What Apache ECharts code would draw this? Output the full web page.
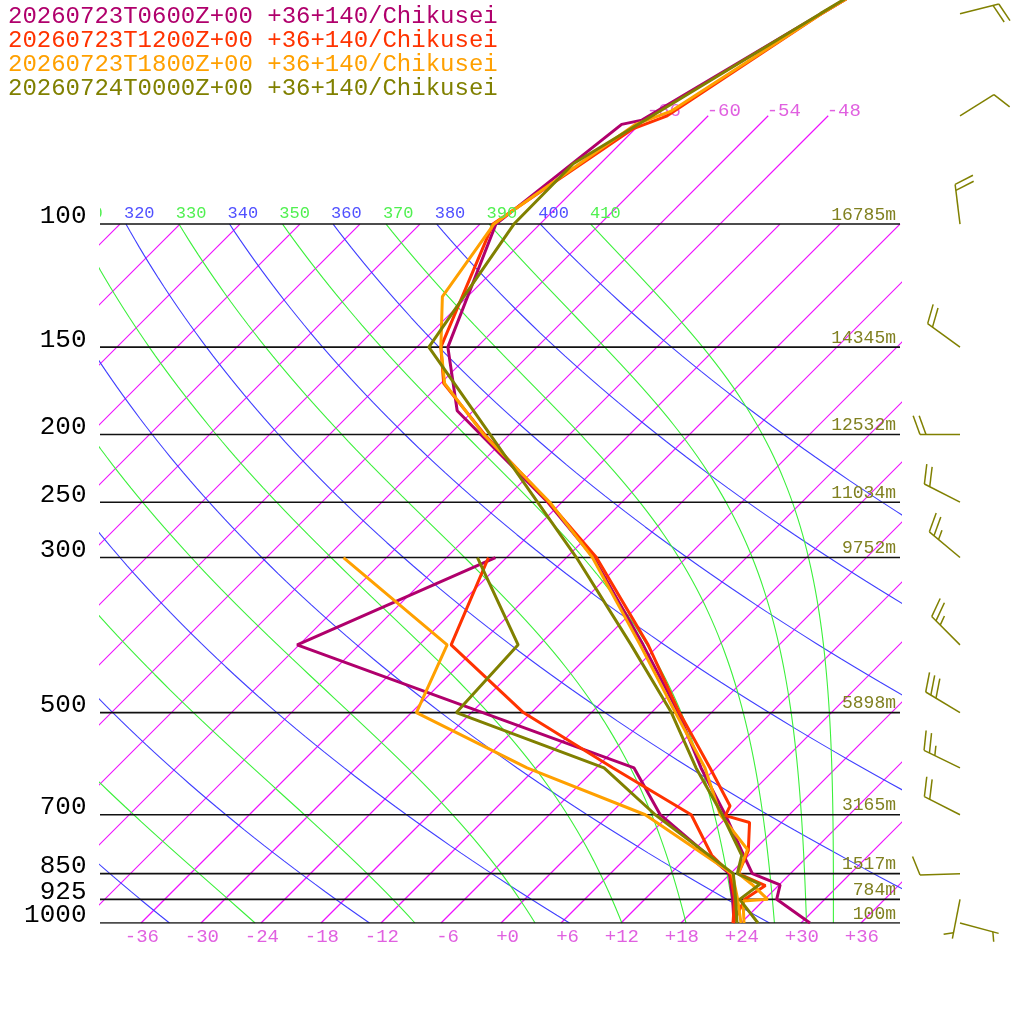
<!DOCTYPE html>
<html><head><meta charset="utf-8"><title>Skew-T Chikusei</title>
<script src="https://cdn.jsdelivr.net/npm/echarts@6/dist/echarts.min.js"></script>
<style>html,body{margin:0;padding:0;background:#fff;}#chart{width:1024px;height:1024px;}</style>
</head><body><div id="chart"></div>
<script>
// ---------------- data ----------------
const titles = [
  '20260723T0600Z+00 +36+140/Chikusei',
  '20260723T1200Z+00 +36+140/Chikusei',
  '20260723T1800Z+00 +36+140/Chikusei',
  '20260724T0000Z+00 +36+140/Chikusei'
];
const colors = ['#b0006c', '#ff3300', '#ffa000', '#808000'];

// temperature profiles (hPa, degC)
const t06P = [1000, 925, 882, 850, 800, 700, 600, 500, 400, 300, 250, 185, 150, 100, 72, 71, 50, 30];
const t06T = [30.9, 25.2, 24.1, 20.2, 17.5, 11.6, 4.5, -3.3, -13.6, -27.3, -37.4, -55.6, -62.9, -70.4, -67.8, -66.2, -58.9, -48.3];
const t12P = [1000, 925, 884, 850, 788, 718, 702, 680, 600, 500, 400, 300, 250, 200, 169, 150, 100, 73, 70, 50, 30];
const t12T = [23.2, 22.0, 22.7, 18.8, 17.5, 14.8, 11.7, 11.2, 5.4, -3.2, -13.1, -27.0, -37.3, -50.5, -59.7, -63.6, -70.7, -66.2, -64.1, -58.9, -48.3];
const t18P = [1000, 930, 925, 880, 850, 785, 700, 600, 500, 400, 300, 250, 200, 169, 150, 127, 100, 72, 69, 50, 30];
const t18T = [24.3, 22.0, 24.3, 21.2, 18.8, 17.3, 11.1, 4.9, -3.6, -13.9, -27.4, -37.2, -50.6, -59.6, -63.6, -68.5, -70.6, -66.4, -64.2, -58.9, -48.3];
const t00P = [1000, 925, 880, 850, 800, 700, 600, 500, 400, 300, 150, 100, 82, 50, 30];
const t00T = [25.7, 21.5, 22.0, 18.7, 17.3, 11.3, 4.0, -4.0, -14.8, -29.0, -64.8, -68.6, -68.7, -59.0, -48.8];

// dew point profiles (hPa, degC)
const d06P = [1000, 925, 850, 700, 600, 400, 300];
const d06D = [23.3, 20.8, 17.9, 5.1, -2.2, -48.2, -37.1];
const d12P = [1000, 925, 850, 800, 700, 600, 500, 400, 300];
const d12D = [23.2, 21.0, 18.0, 14.3, 8.2, -4.3, -18.8, -32.8, -37.8];
const d18P = [1000, 925, 850, 700, 600, 500, 400, 300];
const d18D = [24.0, 21.3, 18.2, 3.6, -12.9, -29.5, -33.2, -52.3];
const d00P = [1000, 925, 850, 700, 600, 500, 400, 300];
const d00D = [23.6, 21.1, 18.3, 4.6, -5.2, -25.5, -26.1, -38.9];

// wind (last run)
const windP   = [1000, 925, 850, 700, 600, 500, 400, 300, 250, 200, 150, 100, 70, 50];
const windDir = [105, 191, 268, 297, 296, 301, 315, 310, 297, 270, 306, 353, 58, 76];
const windSpd = [5, 5, 10, 20, 25, 30, 25, 25, 20, 20, 20, 20, 10, 20];

// isobars and heights
const isobars = [100, 150, 200, 250, 300, 500, 700, 850, 925, 1000];
const heightLabels = ['16785m', '14345m', '12532m', '11034m', '9752m', '5898m', '3165m', '1517m', '784m', '100m'];

// tick labels
const tempTicks = [-36, -30, -24, -18, -12, -6, 0, 6, 12, 18, 24, 30, 36];
const topIsoTicks = [-66, -60, -54, -48];
const thetaTicks = [310, 320, 330, 340, 350, 360, 370, 380, 390, 400, 410];
const dryThetas = [240, 260, 280, 300, 320, 340, 360, 380, 400];
const moistThetas = [250, 270, 290, 310, 330, 350, 370, 390, 410];

// ---------------- helpers ----------------
const PTOP = 47.8, XMIN = -40.1, XMAX = 39.9;
const SK = 923 / Math.log(1000 / PTOP) / 10;
const skx = (T, p) => T + SK * Math.log(1000 / p);
const KAPPA = 0.2857;
function dryT(theta, p) { return theta * Math.pow(p / 1000, KAPPA) - 273.15; }
function thetaE(Tk, p) {
  const Tc = Tk - 273.15;
  const es = 6.112 * Math.exp(17.67 * Tc / (Tc + 243.5));
  const r = Math.max(0, 0.622 * es / (p - es) * 1000);
  const th = Tk * Math.pow(1000 / p, 0.2854 * (1 - 0.00028 * r));
  return th * Math.exp((3.376 / Tk - 0.00254) * r * (1 + 0.00081 * r));
}
function moistT(te, p) {
  let lo = 120, hi = 345;
  for (let i = 0; i < 60; i++) { const m = (lo + hi) / 2; if (thetaE(m, p) > te) hi = m; else lo = m; }
  return (lo + hi) / 2 - 273.15;
}
const pSteps = [];
for (let i = 0; i <= 90; i++) pSteps.push(100 * Math.pow(10, i / 90));

const series = [];
function addLine(points, color, width, z) {
  series.push({
    type: 'line', data: points, symbol: 'none', showSymbol: false, silent: true, clip: true,
    z: z, animation: false, color: color, itemStyle: { color: color },
    lineStyle: { color: color, width: width, opacity: 1 }, emphasis: { disabled: true }
  });
}

// isotherms
const ISO = '#ee11ff';
for (let T = -108; T <= 36; T += 6) addLine([[skx(T, 1000), 1000], [skx(T, 100), 100]], ISO, 1.2, 1);
topIsoTicks.forEach(T => addLine([[skx(T, 100), 100], [skx(T, 70), 70]], ISO, 1.2, 1));
// dry adiabats
dryThetas.forEach(th => addLine(pSteps.map(p => [skx(dryT(th, p), p), p]), '#4040ff', 1.1, 1));
// moist adiabats
moistThetas.forEach(th => addLine(pSteps.map(p => [skx(moistT(th, p), p), p]), '#3cf03c', 1.1, 1));
// isobars
isobars.forEach(p => addLine([[XMIN, p], [XMAX, p]], '#111111', 1.6, 2));

// profiles
const profiles = [
  [t06P, t06T, d06P, d06D],
  [t12P, t12T, d12P, d12D],
  [t18P, t18T, d18P, d18D],
  [t00P, t00T, d00P, d00D]
];
profiles.forEach((pr, i) => {
  addLine(pr[2].map((p, k) => [skx(pr[3][k], p), p]), colors[i], 3, 5 + i);
  addLine(pr[0].map((p, k) => [skx(pr[1][k], p), p]), colors[i], 3, 5 + i);
});

// ---------------- texts ----------------
const MONO = '"Liberation Mono", "DejaVu Sans Mono", monospace';
function textSeries(items, z) {
  return {
    type: 'custom', coordinateSystem: 'cartesian2d', silent: true, z: z, animation: false,
    data: items.map(t => [t.x, t.p]), encode: { x: 0, y: 1 },
    renderItem: function (params, api) {
      const t = items[params.dataIndex];
      const pt = api.coord([t.x, t.p]);
      const el = {
        type: 'text', x: pt[0] + t.dx, y: pt[1] + t.dy,
        style: { text: t.text, fill: t.color, font: t.font, align: t.align, verticalAlign: 'middle' }
      };
      if (t.clip) {
        return { type: 'group', clipPath: { type: 'rect', shape: { x: 100, y: 0, width: 800, height: 1024 } }, children: [el] };
      }
      return el;
    }
  };
}
const frontTexts = [];
isobars.forEach((p, i) => {
  frontTexts.push({ x: XMIN, p: p, text: String(p), color: '#000', font: '26px ' + MONO, align: 'right', dx: -13.5, dy: -7.5 });
  frontTexts.push({ x: XMAX, p: p, text: heightLabels[i], color: '#808020', font: '18px ' + MONO, align: 'right', dx: -4, dy: -9 });
});
thetaTicks.forEach(th => {
  frontTexts.push({ x: skx(dryT(th, 100), 100), p: 100, text: String(th), color: (th % 20 === 0) ? '#5050ff' : '#50f050',
    font: '17px ' + MONO, align: 'left', dx: -2, dy: -10.5, clip: true });
});
tempTicks.forEach(T => {
  frontTexts.push({ x: skx(T, 1000), p: 1000, text: (T >= 0 ? '+' : '') + T, color: '#e060e0',
    font: '19px ' + MONO, align: 'right', dx: 18, dy: 14 });
});
const backTexts = topIsoTicks.map(T => ({ x: skx(T, 70), p: 70, text: String(T), color: '#e060e0',
  font: '19px ' + MONO, align: 'left', dx: -1.5, dy: -5 }));
series.push(textSeries(backTexts, 3));
series.push(textSeries(frontTexts, 20));

// ---------------- wind barbs ----------------
series.push({
  type: 'custom', coordinateSystem: 'cartesian2d', silent: true, z: 20, animation: false,
  data: windP.map(p => [0, p]), encode: { x: 0, y: 1 },
  renderItem: function (params, api) {
    const i = params.dataIndex;
    const y0 = api.coord([0, windP[i]])[1];
    const x0 = 960;
    const a = windDir[i] * Math.PI / 180;
    const ux = Math.sin(a), uy = -Math.cos(a);
    const L = 40, FB = 20, HB = 10, SP = 6;
    const c = Math.cos(70 * Math.PI / 180), s = Math.sin(70 * Math.PI / 180);
    const bx = ux * c - uy * s, by = ux * s + uy * c;
    const tx = x0 + ux * L, ty = y0 + uy * L;
    const style = { stroke: '#808000', lineWidth: 1.5, fill: null };
    const kids = [{ type: 'line', shape: { x1: x0, y1: y0, x2: tx, y2: ty }, style: style }];
    const spd = windSpd[i];
    const full = Math.floor(spd / 10);
    const half = (spd - full * 10) >= 5;
    let k = 0;
    for (let f = 0; f < full; f++, k++) {
      const px = tx - ux * SP * k, py = ty - uy * SP * k;
      kids.push({ type: 'line', shape: { x1: px, y1: py, x2: px + bx * FB, y2: py + by * FB }, style: style });
    }
    if (half) {
      if (full === 0) k = 1;
      const px = tx - ux * SP * k, py = ty - uy * SP * k;
      kids.push({ type: 'line', shape: { x1: px, y1: py, x2: px + bx * HB, y2: py + by * HB }, style: style });
    }
    return { type: 'group', children: kids };
  }
});

// ---------------- option ----------------
const chart = echarts.init(document.getElementById('chart'), null, { renderer: 'canvas' });
chart.setOption({
  backgroundColor: '#ffffff',
  animation: false,
  grid: { left: 100, right: 124, top: 0, bottom: 101, containLabel: false, outerBoundsMode: 'none' },
  xAxis: { type: 'value', min: XMIN, max: XMAX, show: false, splitLine: { show: false } },
  yAxis: { type: 'log', logBase: 10, min: PTOP, max: 1000, inverse: true, show: false, splitLine: { show: false } },
  graphic: titles.map((t, i) => ({
    type: 'text', x: 8, y: 17 + 24 * i, silent: true,
    style: { text: t, fill: colors[i], font: '24px ' + MONO, align: 'left', verticalAlign: 'middle' }
  })),
  series: series
});
</script></body></html>
